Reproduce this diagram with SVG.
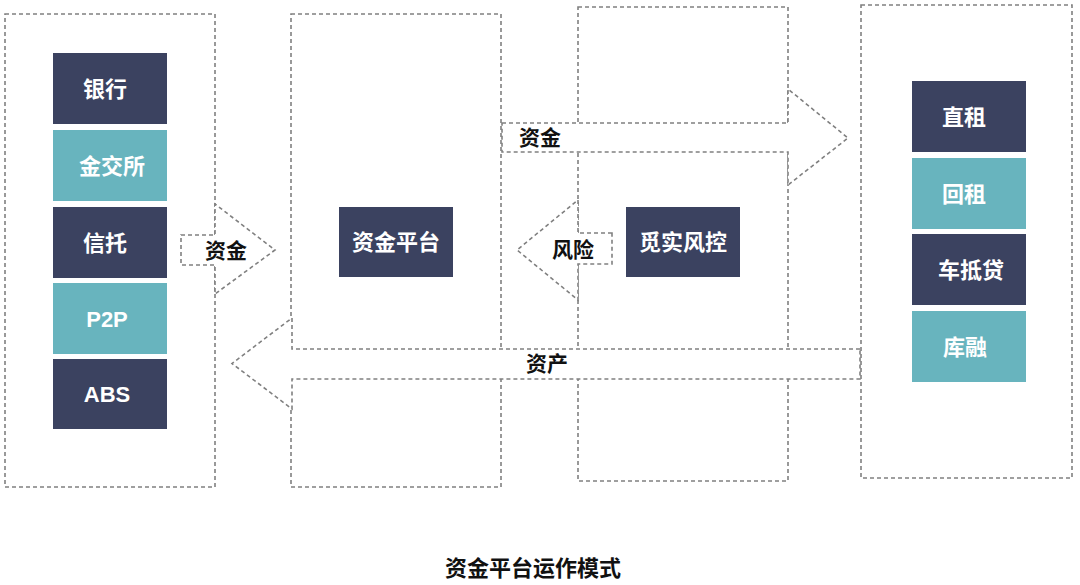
<svg xmlns="http://www.w3.org/2000/svg" width="1080" height="585" viewBox="0 0 1080 585">
<style>
.frame{fill:none;stroke:#808080;stroke-width:1.6;stroke-dasharray:4 3}
.arrow{fill:#ffffff;stroke:#808080;stroke-width:1.6;stroke-dasharray:4 3}
.dark{fill:#3b4260}
.teal{fill:#68b4be}
.nt{fill:#ffffff;font-family:"Liberation Sans","Noto Sans CJK SC",sans-serif;font-size:22px;font-weight:bold;text-anchor:middle;dominant-baseline:central}
.lbl{fill:#111111;font-family:"Liberation Sans","Noto Sans CJK SC",sans-serif;font-size:21px;font-weight:bold;text-anchor:middle;dominant-baseline:central}
.title{fill:#111111;font-family:"Liberation Sans","Noto Sans CJK SC",sans-serif;font-size:22px;font-weight:bold;text-anchor:middle;dominant-baseline:central}
</style>
<rect width="1080" height="585" fill="#ffffff"/>
<g id="frames">
<rect class="frame" x="5" y="14" width="210" height="473"/>
<rect class="frame" x="291" y="14" width="210" height="473"/>
<rect class="frame" x="578" y="7" width="210" height="474"/>
<rect class="frame" x="861" y="5" width="211" height="473"/>
</g>
<g id="connectors">
<polygon class="arrow" points="181,235 215,235 215,204 275,250 215,294 215,265 181,265"/>
<polygon class="arrow" points="502,123 788,123 788,89 848,138 788,185 788,152 502,152"/>
<polygon class="arrow" points="612,233 578,233 578,200 517,250 578,300 578,264 612,264"/>
<polygon class="arrow" points="860,349 292,349 292,318 232,363.5 292,409 292,379 860,379"/>
<text class="lbl" x="226" y="250">资金</text>
<text class="lbl" x="540" y="137">资金</text>
<text class="lbl" x="573" y="249">风险</text>
<text class="lbl" x="547" y="363">资产</text>
</g>
<g id="node-yinhang"><rect class="dark" x="53" y="53" width="114" height="71"/><text class="nt" x="105" y="89">银行</text></g>
<g id="node-jinjiaosuo"><rect class="teal" x="53" y="130" width="114" height="71"/><text class="nt" x="112" y="166">金交所</text></g>
<g id="node-xintuo"><rect class="dark" x="53" y="207" width="114" height="71"/><text class="nt" x="105" y="243">信托</text></g>
<g id="node-p2p"><rect class="teal" x="53" y="283" width="114" height="71"/><text class="nt" x="107" y="319">P2P</text></g>
<g id="node-abs"><rect class="dark" x="53" y="359" width="114" height="70"/><text class="nt" x="107" y="394">ABS</text></g>
<g id="node-platform"><rect class="dark" x="339" y="207" width="114" height="70"/><text class="nt" x="396" y="242">资金平台</text></g>
<g id="node-risk"><rect class="dark" x="626" y="207" width="114" height="70"/><text class="nt" x="683" y="242">觅实风控</text></g>
<g id="node-zhizu"><rect class="dark" x="912" y="81" width="114" height="71"/><text class="nt" x="964" y="117">直租</text></g>
<g id="node-huizu"><rect class="teal" x="912" y="158" width="114" height="71"/><text class="nt" x="964" y="194">回租</text></g>
<g id="node-chedidai"><rect class="dark" x="912" y="234" width="114" height="71"/><text class="nt" x="971" y="270">车抵贷</text></g>
<g id="node-kurong"><rect class="teal" x="912" y="311" width="114" height="71"/><text class="nt" x="965" y="347">库融</text></g>
<text class="title" x="533" y="568">资金平台运作模式</text>
</svg>
